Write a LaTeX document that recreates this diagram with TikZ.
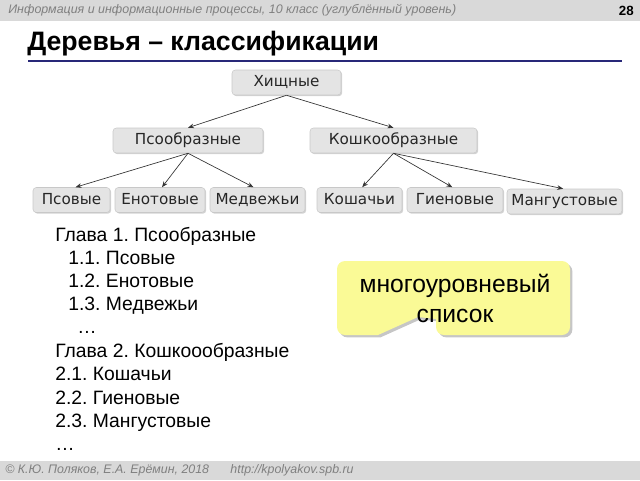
\documentclass[tikz,border=0pt]{standalone}
\usepackage{fontspec}
\setmainfont{Liberation Sans}
\newfontfamily\verd{DejaVu Sans}
\usetikzlibrary{shadows,arrows.meta}
\frenchspacing
\definecolor{band}{RGB}{217,217,217}
\definecolor{hdrtxt}{RGB}{128,128,128}
\definecolor{navyline}{RGB}{40,40,120}
\definecolor{nodefill}{RGB}{228,228,228}
\definecolor{nodeedge}{RGB}{200,200,200}
\definecolor{calloutfill}{RGB}{250,250,150}
\tikzset{
  tbox/.style={draw=nodeedge, fill=nodefill, rounded corners=2.5pt, minimum height=18.75pt,
    inner sep=0pt, text height=8.3pt, text depth=2.3pt, text=black!85, font=\verd\fontsize{11.4}{13}\selectfont,
    drop shadow={shadow xshift=0.9pt, shadow yshift=-0.9pt, opacity=0.35}},
  link/.style={draw=black!80, line width=0.5pt, -{Stealth[length=4.5pt,width=3.5pt]}},
  listtxt/.style={anchor=base west, inner sep=0pt, font=\fontsize{14.5}{16}\selectfont},
}
\begin{document}
\begin{tikzpicture}[x=0.75pt,y=-0.75pt]
\useasboundingbox (0,0) rectangle (640,480);
% header / footer bands
\fill[band] (0,0) rectangle (640,21);
\fill[band] (0,461) rectangle (640,480);
\node[anchor=west, inner sep=0pt, text=hdrtxt, font=\itshape\fontsize{9.33}{11}\selectfont] (hdr) at (8,10.5)
  {Информация и информационные процессы, 10 класс (углублённый уровень)};
\node[anchor=east, inner sep=0pt, font=\bfseries\fontsize{10}{12}\selectfont] (pg) at (634,10.5) {28};
\node[anchor=west, inner sep=0pt, text=hdrtxt, font=\itshape\fontsize{9.3}{11}\selectfont] (ftr) at (5,470.5)
  {© К.Ю. Поляков, Е.А. Ерёмин, 2018\hspace{16pt}http://kpolyakov.spb.ru};
% title
\node[anchor=base west, inner sep=0pt, font=\bfseries\fontsize{20}{23}\selectfont] (title) at (27,50)
  {Деревья – классификации};
\fill[navyline] (28,59.5) rectangle (622,61.5);
% tree
\node[tbox, minimum width=81.75pt] (h) at (286.5,82.5) {Хищные};
\node[tbox, minimum width=112.5pt] (p) at (188,140.5) {Псообразные};
\node[tbox, minimum width=125.25pt] (k) at (393.5,140.5) {Кошкообразные};
\node[tbox, minimum width=57.75pt] (p1) at (71.5,200) {Псовые};
\node[tbox, minimum width=67.5pt] (p2) at (160,200) {Енотовые};
\node[tbox, minimum width=71.25pt] (p3) at (257.5,200) {Медвежьи};
\node[tbox, minimum width=63.75pt] (k1) at (359.5,200) {Кошачьи};
\node[tbox, minimum width=72pt] (k2) at (455,200) {Гиеновые};
\node[tbox, minimum width=86.25pt] (k3) at (564.5,201.5) {Мангустовые};
\draw[link] (h.south) -- (p.north);
\draw[link] (h.south) -- (k.north);
\draw[link] (p.south) -- ([xshift=3pt]p1.north);
\draw[link] (p.south) -- ([xshift=1.5pt]p2.north);
\draw[link] (p.south) -- ([xshift=-3pt]p3.north);
\draw[link] (k.south) -- ([xshift=2pt]k1.north);
\draw[link] (k.south) -- ([xshift=-2pt]k2.north);
\draw[link] (k.south) -- ([xshift=-1pt]k3.north);
% list
\node[listtxt] (l1) at (55,241) {Глава 1. Псообразные};
\node[listtxt] (l2) at (68,264) {1.1. Псовые};
\node[listtxt] (l3) at (68,287) {1.2. Енотовые};
\node[listtxt] (l4) at (68,310) {1.3. Медвежьи};
\node[listtxt] (l5) at (77,333) {…};
\node[listtxt] (l6) at (55,357) {Глава 2. Кошкоообразные};
\node[listtxt] (l7) at (55,380) {2.1. Кошачьи};
\node[listtxt] (l8) at (55,404) {2.2. Гиеновые};
\node[listtxt] (l9) at (55,427) {2.3. Мангустовые};
\node[listtxt] (l10) at (55,450) {…};
% callout
\path[fill=calloutfill, drop shadow={shadow xshift=1.8pt, shadow yshift=-1.8pt, opacity=0.45}]
  (450,261) [rounded corners=6pt] -- (570,261) -- (570,335) -- (436,335)
  [sharp corners] -- (436,319) -- (418,317) -- (378,335)
  [rounded corners=6pt] -- (337,335) -- (337,261) -- cycle;
\node[anchor=base, inner sep=0pt, font=\fontsize{18.5}{21}\selectfont] (c1) at (455,292) {многоуровневый};
\node[anchor=base, inner sep=0pt, font=\fontsize{18.5}{21}\selectfont] (c2) at (455,322) {список};
\end{tikzpicture}
\end{document}
